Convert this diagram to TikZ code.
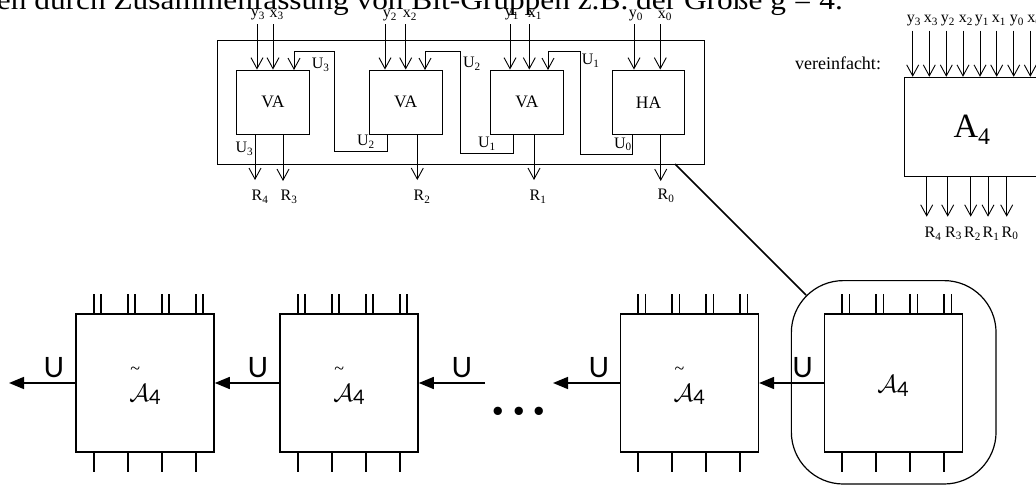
\documentclass[tikz,border=0pt]{standalone}
\usepackage{fontspec}
\setmainfont{Liberation Serif}
\usetikzlibrary{arrows.meta}
\newfontfamily\numfont{Lato}
\newfontfamily\headfont[FakeStretch=1.12]{Liberation Serif}
\tikzset{
  x=1pt,y=-1pt,
  lab/.style={font=\fontsize{16}{16}\selectfont,inner sep=0pt},
  blk/.style={draw,line width=.9pt,inner sep=0pt,font=\fontsize{17.5}{17.5}\selectfont},
  inarrow/.style={line width=.9pt,-{Straight Barb[length=11pt,width=12pt]}},
  cell/.style={draw,line width=1.6pt,inner sep=0pt,minimum width=138pt,minimum height=138pt},
  celltext/.style={font=\fontsize{27}{27}\selectfont,inner sep=0pt,anchor=base},
  tick/.style={line width=1.6pt},
  carry/.style={line width=1.6pt,-{Triangle[length=15pt,width=12pt]}},
  ulab/.style={font=\numfont\fontsize{28}{28}\selectfont,inner sep=0pt,anchor=base}
}
\newcommand{\subd}[2]{#1\textsubscript{#2}}
\newcommand{\cellname}{\makebox[0pt][l]{\hspace{1pt}\raisebox{27pt}{\fontsize{18}{18}\selectfont\textasciitilde}}$\mathcal{A}$\raisebox{-2.5pt}{\numfont\fontsize{20}{20}\selectfont 4}}
\begin{document}
\begin{tikzpicture}
\useasboundingbox (0,0) rectangle (1036,485);
\clip (0,0) rectangle (1036,485);
% header line
\node[anchor=base east,inner sep=0pt,font=\headfont\fontsize{28}{28}\selectfont] (head) at (843,9) {en durch Zusammenfassung von Bit-Gruppen z.B. der Größe g = 4.};
% enclosing frame
\node[draw,line width=1pt,inner sep=0pt,minimum width=486.5pt,minimum height=123.5pt] (frame) at (460.75,102.25) {};
% adders
\node[blk,minimum width=72.3pt,minimum height=64.5pt] (va3) at (272.9,102.25) {VA};
\node[blk,minimum width=72.7pt,minimum height=64.5pt] (va2) at (405.7,102.25) {VA};
\node[blk,minimum width=72.3pt,minimum height=64.5pt] (va1) at (526.9,102.25) {VA};
\node[blk,minimum width=72.4pt,minimum height=64.5pt] (ha) at (648.5,102.25) {HA};
% inputs
\node[lab] (ly3) at (258,15) {\subd{y}{3}};
\node[lab] (lx3) at (276.7,15) {\subd{x}{3}};
\node[lab] (ly2) at (390,15.5) {\subd{y}{2}};
\node[lab] (lx2) at (410,15.5) {\subd{x}{2}};
\node[lab] (ly1) at (512,15) {\subd{y}{1}};
\node[lab] (lx1) at (535,15) {\subd{x}{1}};
\node[lab] (ly0) at (636,16) {\subd{y}{0}};
\node[lab] (lx0) at (665,16) {\subd{x}{0}};
\foreach \n/\px/\b in {a/257/va3,b/273/va3,c/385/va2,d/405.7/va2,e/510/va1,f/529.3/va1,g/634/ha,h/660.3/ha}{
  \coordinate (s\n) at (\px,24);
  \draw[inarrow] (s\n) -- (s\n |- \b.north);
}
% carries
\coordinate (c3a) at (294,70);
\coordinate (c3s) at (387,134.5);
\draw[inarrow] (c3s) -- (387,151) -- (334,151) -- (334,51) -- (294,51) -- (c3a);
\coordinate (c2a) at (425,70);
\coordinate (c2s) at (513,134.5);
\draw[inarrow] (c2s) -- (513,153) -- (460,153) -- (460,51.5) -- (425,51.5) -- (c2a);
\coordinate (c1a) at (548,70);
\coordinate (c1s) at (632.7,134.5);
\draw[inarrow] (c1s) -- (632.7,154) -- (580,154) -- (580,51.5) -- (548,51.5) -- (c1a);
% carry labels
\node[lab] (u3u) at (320.7,65) {\subd{U}{3}};
\node[lab] (u3d) at (244.5,149) {\subd{U}{3}};
\node[lab] (u2u) at (472,64) {\subd{U}{2}};
\node[lab] (u2d) at (366,142) {\subd{U}{2}};
\node[lab] (u1d) at (487,144) {\subd{U}{1}};
\node[lab] (u1u) at (590.7,61) {\subd{U}{1}};
\node[lab] (u0d) at (623,144.5) {\subd{U}{0}};
% outputs
\node[lab] (lr4) at (260,197) {\subd{R}{4}};
\node[lab] (lr3) at (289,197) {\subd{R}{3}};
\node[lab] (lr2) at (422,197) {\subd{R}{2}};
\node[lab] (lr1) at (538,197) {\subd{R}{1}};
\node[lab] (lr0) at (666,196) {\subd{R}{0}};
\coordinate (o4) at (255,134.5); \coordinate (o4e) at (255,180);
\coordinate (o3) at (283,134.5); \coordinate (o3e) at (283,181);
\coordinate (o2) at (417.3,134.5); \coordinate (o2e) at (417.3,180);
\coordinate (o1) at (534,134.5); \coordinate (o1e) at (534,180);
\coordinate (o0) at (660.7,134.5); \coordinate (o0e) at (660.7,181);
\foreach \n in {4,3,2,1,0}{\draw[inarrow] (o\n) -- (o\n e);}
% simplified block
\node[font=\fontsize{18}{18}\selectfont,inner sep=0pt] (vere) at (838,63) {vereinfacht:};
\node[draw,line width=1pt,inner sep=0pt,minimum width=136pt,minimum height=98.7pt] (a4) at (972.3,126.65) {};
\node[inner sep=0pt,font=\fontsize{34}{34}\selectfont] (a4t) at (972,130) {\subd{A}{4}};
\foreach \n/\px/\lx/\t/\d in {a/912.7/914/y/3,b/929.3/931/x/3,c/946.3/948/y/2,d/963/966/x/2,e/980/982/y/1,f/996.7/999/x/1,g/1013.7/1017/y/0,h/1030.3/1034.5/x/0}{
  \node[lab] (rl\n) at (\lx,20.5) {\subd{\t}{\d}};
  \coordinate (rs\n) at (\px,30.7);
  \draw[inarrow] (rs\n) -- (rs\n |- a4.north);
}
\foreach \n/\px/\lx/\d in {a/926.7/933/4,b/947.7/953.5/3,c/970.7/972.5/2,d/988/991/1,e/1006.7/1010/0}{
  \coordinate (ro\n) at (\px,176);
  \coordinate (re\n) at (\px,216.7);
  \draw[inarrow] (ro\n) -- (re\n);
  \node[lab] (rr\n) at (\lx,233.5) {\subd{R}{\d}};
}
% lower row
\node[cell] (c1) at (145,383) {};
\node[cell] (c2) at (349,383) {};
\node[cell] (c3) at (689.3,383) {};
\node[cell] (c4) at (893.5,383) {};
\node[celltext] (t1) at (145,401.5) {\cellname};
\node[celltext] (t2) at (349,401.5) {\cellname};
\node[celltext] (t3) at (689.3,401.5) {\cellname};
\node[celltext] (t4) at (893,392) {$\mathcal{A}$\raisebox{-4pt}{\numfont\fontsize{20}{20}\selectfont 4}};
% group outline and link
\node[draw,line width=1.2pt,rounded corners=52pt,inner sep=0pt,minimum width=204.7pt,minimum height=203.4pt] (grp) at (893.7,382.3) {};
\coordinate (linkA) at (675,164);
\coordinate (linkB) at (806,295);
\draw[line width=1.5pt] (linkA) -- (linkB);
% pin ticks
\foreach \c in {c1,c2,c3,c4}{
  \foreach \o in {-51.3,-17.3,16.7,50.7}{
    \draw[tick] ([xshift=\o pt]\c.north) -- ++(0,-19);
    \draw[tick] ([xshift=\o pt+7.3pt]\c.north) -- ++(0,-19);
    \draw[tick] ([xshift=\o pt]\c.south) -- ++(0,19.5);
  }
}
% carry arrows
\coordinate (cs) at (485,383);
\coordinate (ce) at (9,383);
\coordinate (cm) at (553,383);
\draw[carry] (c1.west) -- (ce);
\draw[carry] (c2.west) -- (c1.east);
\draw[carry] (cs) -- (c2.east);
\draw[carry] (c3.west) -- (cm);
\draw[carry] (c4.west) -- (c3.east);
\foreach \n/\px in {a/54,b/258,c/462,d/599,e/802.7}{
  \node[ulab] (ul\n) at (\px,377) {U};
}
\node[inner sep=0pt,font=\fontsize{70}{70}\selectfont] (dots) at (519,411) {\makebox[20.7pt]{.}\makebox[20.7pt]{.}\makebox[20.7pt]{.}};
\end{tikzpicture}
\end{document}
